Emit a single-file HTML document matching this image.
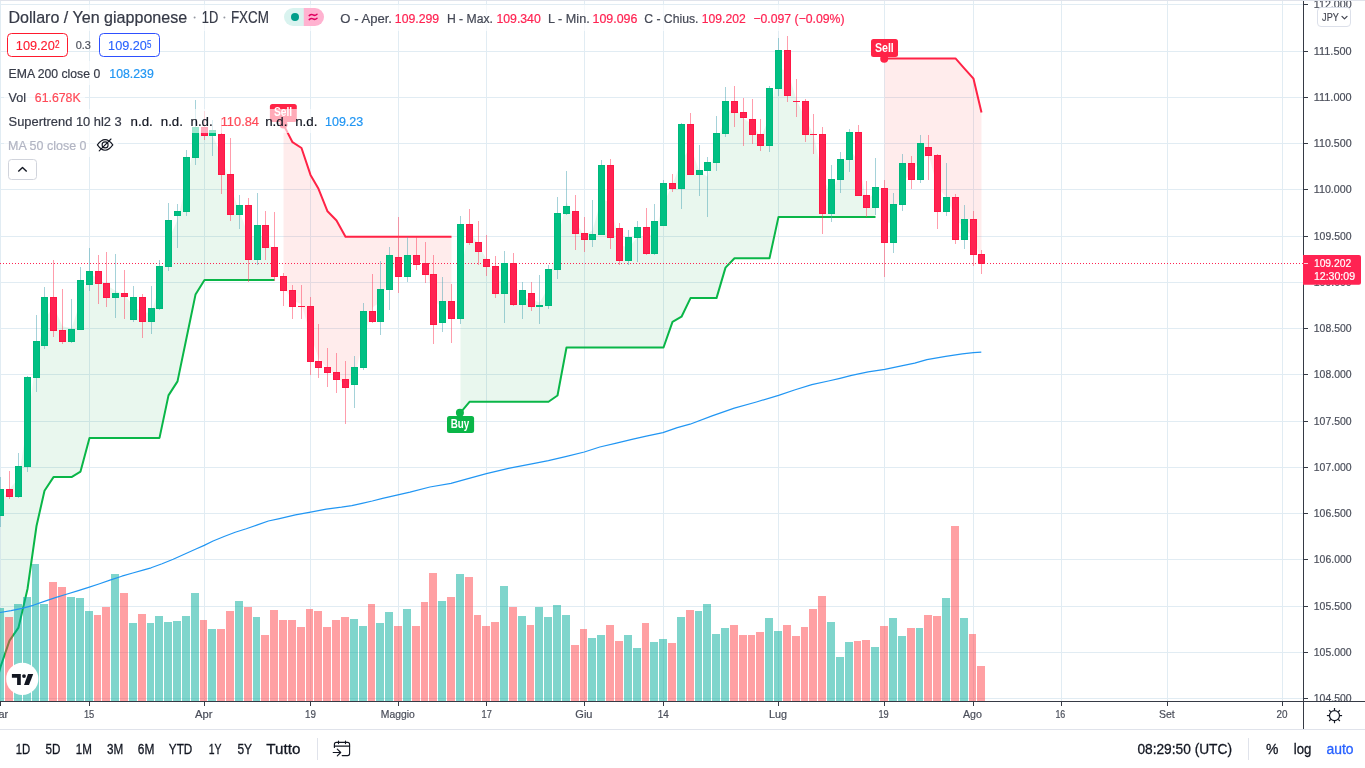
<!DOCTYPE html>
<html><head><meta charset="utf-8"><title>USDJPY</title>
<style>
html,body{margin:0;padding:0;background:#fff;}
body{width:1365px;height:768px;overflow:hidden;position:relative;font-family:"Liberation Sans",sans-serif;}
</style></head><body>
<svg width="1365" height="768" viewBox="0 0 1365 768" style="position:absolute;left:0;top:0;will-change:transform" font-family="Liberation Sans, sans-serif">
<rect x="0" y="0" width="1365" height="768" fill="#fff"/>
<rect x="0" y="0" width="1365" height="1" fill="#e0e3eb"/>
<g fill="#e1ecf3" shape-rendering="crispEdges"><rect x="0" y="1" width="1" height="700"/><rect x="89" y="1" width="1" height="700"/><rect x="204" y="1" width="1" height="700"/><rect x="310" y="1" width="1" height="700"/><rect x="398" y="1" width="1" height="700"/><rect x="486" y="1" width="1" height="700"/><rect x="584" y="1" width="1" height="700"/><rect x="663" y="1" width="1" height="700"/><rect x="778" y="1" width="1" height="700"/><rect x="884" y="1" width="1" height="700"/><rect x="973" y="1" width="1" height="700"/><rect x="1061" y="1" width="1" height="700"/><rect x="1167" y="1" width="1" height="700"/><rect x="1282" y="1" width="1" height="700"/><rect x="0" y="4" width="1303" height="1"/><rect x="0" y="51" width="1303" height="1"/><rect x="0" y="97" width="1303" height="1"/><rect x="0" y="143" width="1303" height="1"/><rect x="0" y="189" width="1303" height="1"/><rect x="0" y="236" width="1303" height="1"/><rect x="0" y="282" width="1303" height="1"/><rect x="0" y="328" width="1303" height="1"/><rect x="0" y="374" width="1303" height="1"/><rect x="0" y="421" width="1303" height="1"/><rect x="0" y="467" width="1303" height="1"/><rect x="0" y="513" width="1303" height="1"/><rect x="0" y="559" width="1303" height="1"/><rect x="0" y="606" width="1303" height="1"/><rect x="0" y="652" width="1303" height="1"/><rect x="0" y="698" width="1303" height="1"/></g>
<defs><clipPath id="pane"><rect x="0" y="1" width="1303" height="700"/></clipPath></defs>
<g clip-path="url(#pane)">
<polygon points="0.5,667.0 9.5,640.6 18.5,627.6 27.5,589.0 36.5,526.0 44.5,490.8 53.5,477.1 62.5,477.1 71.5,477.1 80.5,471.6 89.5,437.9 98.5,437.9 106.5,437.9 115.5,437.9 124.5,437.9 133.5,437.9 142.5,437.9 151.5,437.9 159.5,437.9 168.5,395.4 177.5,381.4 186.5,338.0 195.5,294.6 204.5,279.9 212.5,279.9 221.5,279.9 230.5,279.9 239.5,279.9 248.5,279.9 257.5,279.9 265.5,279.9 274.5,279.9 274.5,254.2 265.5,236.0 257.5,235.8 248.5,236.2 239.5,211.0 230.5,187.0 221.5,155.2 212.5,135.5 204.5,128.5 195.5,137.5 186.5,183.8 177.5,219.8 168.5,240.2 159.5,286.2 151.5,312.5 142.5,312.8 133.5,306.2 124.5,294.8 115.5,290.8 106.5,285.0 98.5,278.5 89.5,273.8 80.5,301.8 71.5,328.2 62.5,326.2 53.5,306.2 44.5,319.8 36.5,356.5 27.5,423.0 18.5,478.5 9.5,489.0 0.5,502.2" fill="rgba(0,160,60,0.085)"/>
<polygon points="283.5,124.6 292.5,142.2 301.5,148.0 310.5,174.9 318.5,188.8 327.5,211.3 336.5,220.5 345.5,236.8 354.5,236.8 363.5,236.8 372.5,236.8 380.5,236.8 389.5,236.8 398.5,236.8 407.5,236.8 416.5,236.8 425.5,236.8 433.5,236.8 442.5,236.8 451.5,236.8 451.5,311.8 442.5,308.2 433.5,299.5 425.5,265.8 416.5,256.8 407.5,262.8 398.5,261.0 389.5,275.5 380.5,301.8 372.5,307.5 363.5,338.0 354.5,379.0 345.5,388.0 336.5,374.5 327.5,368.8 318.5,357.8 310.5,335.0 301.5,304.2 292.5,300.2 283.5,286.5" fill="rgba(255,40,40,0.09)"/>
<polygon points="460.5,412.7 469.5,401.8 478.5,401.8 486.5,401.8 495.5,401.8 504.5,401.8 513.5,401.8 522.5,401.8 531.5,401.8 539.5,401.8 548.5,401.8 557.5,395.5 566.5,347.5 575.5,347.5 584.5,347.5 592.5,347.5 601.5,347.5 610.5,347.5 619.5,347.5 628.5,347.5 637.5,347.5 646.5,347.5 654.5,347.5 663.5,347.5 672.5,321.8 681.5,316.7 690.5,298.1 699.5,298.1 707.5,298.1 716.5,298.1 725.5,267.6 734.5,258.3 743.5,258.3 752.5,258.3 760.5,258.3 769.5,258.3 778.5,216.9 787.5,216.9 796.5,216.9 805.5,216.9 813.5,216.9 822.5,216.9 831.5,216.9 840.5,216.9 849.5,216.9 858.5,216.9 866.5,216.9 875.5,216.9 875.5,192.0 866.5,200.2 858.5,162.2 849.5,148.2 840.5,171.0 831.5,195.0 822.5,177.2 813.5,134.2 805.5,119.2 796.5,99.8 787.5,71.0 778.5,68.2 769.5,118.0 760.5,137.5 752.5,124.2 743.5,118.5 734.5,106.8 725.5,114.8 716.5,145.8 707.5,176.8 699.5,171.5 690.5,146.8 681.5,161.2 672.5,184.5 663.5,203.8 654.5,233.5 646.5,236.0 637.5,237.0 628.5,248.2 619.5,244.2 610.5,202.8 601.5,198.8 592.5,230.2 584.5,235.5 575.5,222.5 566.5,201.5 557.5,239.8 548.5,287.2 539.5,302.8 531.5,298.2 522.5,299.0 513.5,281.8 504.5,282.8 495.5,278.5 486.5,259.2 478.5,245.0 469.5,230.2 460.5,270.8" fill="rgba(0,160,60,0.085)"/>
<polygon points="884.5,58.4 893.5,58.4 902.5,58.4 911.5,58.4 920.5,58.4 928.5,58.4 937.5,58.4 946.5,58.4 955.5,58.4 964.5,68.6 973.5,78.7 981.5,112.6 981.5,260.5 973.5,237.8 964.5,228.2 955.5,218.8 946.5,197.0 937.5,187.5 928.5,154.5 920.5,160.2 911.5,172.0 902.5,183.2 893.5,223.2 884.5,222.0" fill="rgba(255,40,40,0.09)"/>
<polyline points="-8.5,700.0 0.5,667.0 9.5,640.6 18.5,627.6 27.5,589.0 36.5,526.0 44.5,490.8 53.5,477.1 62.5,477.1 71.5,477.1 80.5,471.6 89.5,437.9 98.5,437.9 106.5,437.9 115.5,437.9 124.5,437.9 133.5,437.9 142.5,437.9 151.5,437.9 159.5,437.9 168.5,395.4 177.5,381.4 186.5,338.0 195.5,294.6 204.5,279.9 212.5,279.9 221.5,279.9 230.5,279.9 239.5,279.9 248.5,279.9 257.5,279.9 265.5,279.9 274.5,279.9" fill="none" stroke="#0ab648" stroke-width="2" stroke-linejoin="round"/>
<polyline points="283.5,124.6 292.5,142.2 301.5,148.0 310.5,174.9 318.5,188.8 327.5,211.3 336.5,220.5 345.5,236.8 354.5,236.8 363.5,236.8 372.5,236.8 380.5,236.8 389.5,236.8 398.5,236.8 407.5,236.8 416.5,236.8 425.5,236.8 433.5,236.8 442.5,236.8 451.5,236.8" fill="none" stroke="#ff2346" stroke-width="2" stroke-linejoin="round"/>
<polyline points="460.5,412.7 469.5,401.8 478.5,401.8 486.5,401.8 495.5,401.8 504.5,401.8 513.5,401.8 522.5,401.8 531.5,401.8 539.5,401.8 548.5,401.8 557.5,395.5 566.5,347.5 575.5,347.5 584.5,347.5 592.5,347.5 601.5,347.5 610.5,347.5 619.5,347.5 628.5,347.5 637.5,347.5 646.5,347.5 654.5,347.5 663.5,347.5 672.5,321.8 681.5,316.7 690.5,298.1 699.5,298.1 707.5,298.1 716.5,298.1 725.5,267.6 734.5,258.3 743.5,258.3 752.5,258.3 760.5,258.3 769.5,258.3 778.5,216.9 787.5,216.9 796.5,216.9 805.5,216.9 813.5,216.9 822.5,216.9 831.5,216.9 840.5,216.9 849.5,216.9 858.5,216.9 866.5,216.9 875.5,216.9" fill="none" stroke="#0ab648" stroke-width="2" stroke-linejoin="round"/>
<polyline points="884.5,58.4 893.5,58.4 902.5,58.4 911.5,58.4 920.5,58.4 928.5,58.4 937.5,58.4 946.5,58.4 955.5,58.4 964.5,68.6 973.5,78.7 981.5,112.6" fill="none" stroke="#ff2346" stroke-width="2" stroke-linejoin="round"/>
<g shape-rendering="crispEdges"><rect x="0" y="608" width="4" height="93" fill="rgba(0,171,153,0.5)"/><rect x="5" y="617" width="8" height="84" fill="rgba(255,65,71,0.5)"/><rect x="14" y="604" width="8" height="97" fill="rgba(0,171,153,0.5)"/><rect x="23" y="597" width="8" height="104" fill="rgba(0,171,153,0.5)"/><rect x="32" y="564" width="7" height="137" fill="rgba(0,171,153,0.5)"/><rect x="40" y="604" width="8" height="97" fill="rgba(0,171,153,0.5)"/><rect x="49" y="582" width="8" height="119" fill="rgba(255,65,71,0.5)"/><rect x="58" y="587" width="8" height="114" fill="rgba(255,65,71,0.5)"/><rect x="67" y="597" width="8" height="104" fill="rgba(0,171,153,0.5)"/><rect x="76" y="598" width="8" height="103" fill="rgba(0,171,153,0.5)"/><rect x="85" y="611" width="8" height="90" fill="rgba(0,171,153,0.5)"/><rect x="94" y="615" width="7" height="86" fill="rgba(255,65,71,0.5)"/><rect x="102" y="607" width="8" height="94" fill="rgba(255,65,71,0.5)"/><rect x="111" y="574" width="8" height="127" fill="rgba(0,171,153,0.5)"/><rect x="120" y="593" width="8" height="108" fill="rgba(255,65,71,0.5)"/><rect x="129" y="623" width="8" height="78" fill="rgba(0,171,153,0.5)"/><rect x="138" y="614" width="8" height="87" fill="rgba(255,65,71,0.5)"/><rect x="147" y="623" width="7" height="78" fill="rgba(0,171,153,0.5)"/><rect x="155" y="616" width="8" height="85" fill="rgba(0,171,153,0.5)"/><rect x="164" y="622" width="8" height="79" fill="rgba(0,171,153,0.5)"/><rect x="173" y="621" width="8" height="80" fill="rgba(0,171,153,0.5)"/><rect x="182" y="616" width="8" height="85" fill="rgba(0,171,153,0.5)"/><rect x="191" y="593" width="8" height="108" fill="rgba(0,171,153,0.5)"/><rect x="200" y="620" width="7" height="81" fill="rgba(255,65,71,0.5)"/><rect x="208" y="629" width="8" height="72" fill="rgba(0,171,153,0.5)"/><rect x="217" y="629" width="8" height="72" fill="rgba(255,65,71,0.5)"/><rect x="226" y="611" width="8" height="90" fill="rgba(255,65,71,0.5)"/><rect x="235" y="601" width="8" height="100" fill="rgba(0,171,153,0.5)"/><rect x="244" y="607" width="8" height="94" fill="rgba(255,65,71,0.5)"/><rect x="253" y="617" width="7" height="84" fill="rgba(0,171,153,0.5)"/><rect x="261" y="635" width="8" height="66" fill="rgba(255,65,71,0.5)"/><rect x="270" y="610" width="8" height="91" fill="rgba(255,65,71,0.5)"/><rect x="279" y="620" width="8" height="81" fill="rgba(255,65,71,0.5)"/><rect x="288" y="620" width="8" height="81" fill="rgba(255,65,71,0.5)"/><rect x="297" y="627" width="8" height="74" fill="rgba(255,65,71,0.5)"/><rect x="306" y="609" width="7" height="92" fill="rgba(255,65,71,0.5)"/><rect x="314" y="611" width="8" height="90" fill="rgba(255,65,71,0.5)"/><rect x="323" y="627" width="8" height="74" fill="rgba(255,65,71,0.5)"/><rect x="332" y="620" width="8" height="81" fill="rgba(255,65,71,0.5)"/><rect x="341" y="617" width="8" height="84" fill="rgba(255,65,71,0.5)"/><rect x="350" y="619" width="8" height="82" fill="rgba(0,171,153,0.5)"/><rect x="359" y="626" width="8" height="75" fill="rgba(0,171,153,0.5)"/><rect x="368" y="604" width="7" height="97" fill="rgba(255,65,71,0.5)"/><rect x="376" y="623" width="8" height="78" fill="rgba(0,171,153,0.5)"/><rect x="385" y="612" width="8" height="89" fill="rgba(0,171,153,0.5)"/><rect x="394" y="626" width="8" height="75" fill="rgba(255,65,71,0.5)"/><rect x="403" y="609" width="8" height="92" fill="rgba(0,171,153,0.5)"/><rect x="412" y="626" width="8" height="75" fill="rgba(255,65,71,0.5)"/><rect x="421" y="602" width="7" height="99" fill="rgba(255,65,71,0.5)"/><rect x="429" y="573" width="8" height="128" fill="rgba(255,65,71,0.5)"/><rect x="438" y="601" width="8" height="100" fill="rgba(0,171,153,0.5)"/><rect x="447" y="597" width="8" height="104" fill="rgba(255,65,71,0.5)"/><rect x="456" y="574" width="8" height="127" fill="rgba(0,171,153,0.5)"/><rect x="465" y="577" width="8" height="124" fill="rgba(255,65,71,0.5)"/><rect x="474" y="615" width="7" height="86" fill="rgba(255,65,71,0.5)"/><rect x="482" y="626" width="8" height="75" fill="rgba(255,65,71,0.5)"/><rect x="491" y="622" width="8" height="79" fill="rgba(255,65,71,0.5)"/><rect x="500" y="586" width="8" height="115" fill="rgba(0,171,153,0.5)"/><rect x="509" y="607" width="8" height="94" fill="rgba(255,65,71,0.5)"/><rect x="518" y="616" width="8" height="85" fill="rgba(0,171,153,0.5)"/><rect x="527" y="625" width="7" height="76" fill="rgba(255,65,71,0.5)"/><rect x="535" y="607" width="8" height="94" fill="rgba(0,171,153,0.5)"/><rect x="544" y="617" width="8" height="84" fill="rgba(0,171,153,0.5)"/><rect x="553" y="605" width="8" height="96" fill="rgba(0,171,153,0.5)"/><rect x="562" y="615" width="8" height="86" fill="rgba(0,171,153,0.5)"/><rect x="571" y="645" width="8" height="56" fill="rgba(255,65,71,0.5)"/><rect x="580" y="629" width="7" height="72" fill="rgba(255,65,71,0.5)"/><rect x="588" y="638" width="8" height="63" fill="rgba(0,171,153,0.5)"/><rect x="597" y="635" width="8" height="66" fill="rgba(0,171,153,0.5)"/><rect x="606" y="625" width="8" height="76" fill="rgba(255,65,71,0.5)"/><rect x="615" y="641" width="8" height="60" fill="rgba(255,65,71,0.5)"/><rect x="624" y="635" width="8" height="66" fill="rgba(0,171,153,0.5)"/><rect x="633" y="648" width="8" height="53" fill="rgba(0,171,153,0.5)"/><rect x="642" y="623" width="7" height="78" fill="rgba(255,65,71,0.5)"/><rect x="650" y="642" width="8" height="59" fill="rgba(0,171,153,0.5)"/><rect x="659" y="639" width="8" height="62" fill="rgba(0,171,153,0.5)"/><rect x="668" y="643" width="8" height="58" fill="rgba(255,65,71,0.5)"/><rect x="677" y="617" width="8" height="84" fill="rgba(0,171,153,0.5)"/><rect x="686" y="610" width="8" height="91" fill="rgba(255,65,71,0.5)"/><rect x="695" y="611" width="7" height="90" fill="rgba(0,171,153,0.5)"/><rect x="703" y="604" width="8" height="97" fill="rgba(0,171,153,0.5)"/><rect x="712" y="634" width="8" height="67" fill="rgba(0,171,153,0.5)"/><rect x="721" y="628" width="8" height="73" fill="rgba(0,171,153,0.5)"/><rect x="730" y="625" width="8" height="76" fill="rgba(255,65,71,0.5)"/><rect x="739" y="635" width="8" height="66" fill="rgba(255,65,71,0.5)"/><rect x="748" y="635" width="7" height="66" fill="rgba(255,65,71,0.5)"/><rect x="756" y="632" width="8" height="69" fill="rgba(255,65,71,0.5)"/><rect x="765" y="618" width="8" height="83" fill="rgba(0,171,153,0.5)"/><rect x="774" y="631" width="8" height="70" fill="rgba(0,171,153,0.5)"/><rect x="783" y="625" width="8" height="76" fill="rgba(255,65,71,0.5)"/><rect x="792" y="636" width="8" height="65" fill="rgba(255,65,71,0.5)"/><rect x="801" y="627" width="7" height="74" fill="rgba(255,65,71,0.5)"/><rect x="809" y="609" width="8" height="92" fill="rgba(255,65,71,0.5)"/><rect x="818" y="596" width="8" height="105" fill="rgba(255,65,71,0.5)"/><rect x="827" y="622" width="8" height="79" fill="rgba(0,171,153,0.5)"/><rect x="836" y="657" width="8" height="44" fill="rgba(0,171,153,0.5)"/><rect x="845" y="642" width="8" height="59" fill="rgba(0,171,153,0.5)"/><rect x="854" y="641" width="7" height="60" fill="rgba(255,65,71,0.5)"/><rect x="862" y="640" width="8" height="61" fill="rgba(255,65,71,0.5)"/><rect x="871" y="647" width="8" height="54" fill="rgba(0,171,153,0.5)"/><rect x="880" y="626" width="8" height="75" fill="rgba(255,65,71,0.5)"/><rect x="889" y="618" width="8" height="83" fill="rgba(0,171,153,0.5)"/><rect x="898" y="636" width="8" height="65" fill="rgba(0,171,153,0.5)"/><rect x="907" y="628" width="8" height="73" fill="rgba(255,65,71,0.5)"/><rect x="916" y="628" width="7" height="73" fill="rgba(0,171,153,0.5)"/><rect x="924" y="615" width="8" height="86" fill="rgba(255,65,71,0.5)"/><rect x="933" y="616" width="8" height="85" fill="rgba(255,65,71,0.5)"/><rect x="942" y="598" width="8" height="103" fill="rgba(0,171,153,0.5)"/><rect x="951" y="526" width="8" height="175" fill="rgba(255,65,71,0.5)"/><rect x="960" y="618" width="8" height="83" fill="rgba(0,171,153,0.5)"/><rect x="969" y="634" width="7" height="67" fill="rgba(255,65,71,0.5)"/><rect x="977" y="666" width="8" height="35" fill="rgba(255,65,71,0.5)"/></g>
<line x1="0" y1="263.5" x2="1303" y2="263.5" stroke="#ff2352" stroke-width="1" stroke-dasharray="1 2" shape-rendering="crispEdges"/>
<polyline points="-2.0,612.8 0.0,612.5 11.1,610.6 22.1,608.4 33.2,605.3 44.3,601.4 55.4,597.6 66.4,594.2 77.5,590.9 88.6,587.4 99.6,583.7 110.7,579.9 121.8,576.2 132.8,573.0 143.9,569.9 151.1,567.8 162.1,563.7 173.2,559.2 184.3,554.2 195.4,549.3 204.2,545.4 213.1,541.0 224.1,536.5 235.2,532.3 246.3,528.8 257.4,524.9 268.4,521.0 279.5,518.6 295.4,514.9 310.6,512.1 326.2,509.2 341.5,507.2 351.8,505.6 362.0,503.4 372.3,501.0 382.6,498.3 397.9,494.9 410.0,492.2 429.9,487.0 451.0,483.4 465.4,479.3 486.4,473.7 509.6,468.2 531.8,463.8 548.4,460.6 566.6,456.4 584.3,452.0 599.8,447.0 616.4,443.1 633.0,439.2 646.3,436.1 662.9,432.6 677.3,427.6 690.0,424.2 712.1,415.9 734.3,408.1 756.4,402.0 778.6,395.4 795.2,389.8 811.8,384.6 828.4,381.0 840.0,378.3 851.6,375.4 868.2,371.8 884.8,369.3 901.4,365.9 914.7,363.2 926.9,359.6 945.7,356.3 962.3,353.8 973.4,352.7 981.3,352.1" fill="none" stroke="#2196f3" stroke-width="1.2" stroke-linejoin="round"/>
<g shape-rendering="crispEdges"><rect x="0" y="477" width="1" height="50" fill="rgba(76,166,180,0.5)"/><rect x="0" y="489" width="4" height="27" fill="#00b87c"/><rect x="0" y="490" width="3" height="25" fill="#00c083"/><rect x="9" y="471" width="1" height="28" fill="rgba(255,60,90,0.5)"/><rect x="6" y="489" width="7" height="8" fill="#ff1744"/><rect x="7" y="490" width="5" height="6" fill="#ff2352"/><rect x="18" y="453" width="1" height="45" fill="rgba(76,166,180,0.5)"/><rect x="15" y="466" width="7" height="31" fill="#00b87c"/><rect x="16" y="467" width="5" height="29" fill="#00c083"/><rect x="27" y="376" width="1" height="96" fill="rgba(76,166,180,0.5)"/><rect x="24" y="377" width="7" height="90" fill="#00b87c"/><rect x="25" y="378" width="5" height="88" fill="#00c083"/><rect x="36" y="315" width="1" height="77" fill="rgba(76,166,180,0.5)"/><rect x="33" y="341" width="7" height="37" fill="#00b87c"/><rect x="34" y="342" width="5" height="35" fill="#00c083"/><rect x="44" y="287" width="1" height="62" fill="rgba(76,166,180,0.5)"/><rect x="41" y="297" width="7" height="49" fill="#00b87c"/><rect x="42" y="298" width="5" height="47" fill="#00c083"/><rect x="53" y="260" width="1" height="77" fill="rgba(255,60,90,0.5)"/><rect x="50" y="297" width="7" height="34" fill="#ff1744"/><rect x="51" y="298" width="5" height="32" fill="#ff2352"/><rect x="62" y="289" width="1" height="55" fill="rgba(255,60,90,0.5)"/><rect x="59" y="330" width="7" height="12" fill="#ff1744"/><rect x="60" y="331" width="5" height="10" fill="#ff2352"/><rect x="71" y="299" width="1" height="44" fill="rgba(76,166,180,0.5)"/><rect x="68" y="329" width="7" height="13" fill="#00b87c"/><rect x="69" y="330" width="5" height="11" fill="#00c083"/><rect x="80" y="267" width="1" height="63" fill="rgba(76,166,180,0.5)"/><rect x="77" y="280" width="7" height="50" fill="#00b87c"/><rect x="78" y="281" width="5" height="48" fill="#00c083"/><rect x="89" y="248" width="1" height="43" fill="rgba(76,166,180,0.5)"/><rect x="86" y="271" width="7" height="14" fill="#00b87c"/><rect x="87" y="272" width="5" height="12" fill="#00c083"/><rect x="98" y="255" width="1" height="49" fill="rgba(255,60,90,0.5)"/><rect x="95" y="271" width="7" height="13" fill="#ff1744"/><rect x="96" y="272" width="5" height="11" fill="#ff2352"/><rect x="106" y="252" width="1" height="55" fill="rgba(255,60,90,0.5)"/><rect x="103" y="283" width="7" height="15" fill="#ff1744"/><rect x="104" y="284" width="5" height="13" fill="#ff2352"/><rect x="115" y="254" width="1" height="64" fill="rgba(76,166,180,0.5)"/><rect x="112" y="293" width="7" height="5" fill="#00b87c"/><rect x="113" y="294" width="5" height="3" fill="#00c083"/><rect x="124" y="270" width="1" height="49" fill="rgba(255,60,90,0.5)"/><rect x="121" y="293" width="7" height="4" fill="#ff1744"/><rect x="122" y="294" width="5" height="2" fill="#ff2352"/><rect x="133" y="286" width="1" height="36" fill="rgba(76,166,180,0.5)"/><rect x="130" y="297" width="7" height="23" fill="#00b87c"/><rect x="131" y="298" width="5" height="21" fill="#00c083"/><rect x="142" y="294" width="1" height="44" fill="rgba(255,60,90,0.5)"/><rect x="139" y="297" width="7" height="25" fill="#ff1744"/><rect x="140" y="298" width="5" height="23" fill="#ff2352"/><rect x="151" y="286" width="1" height="48" fill="rgba(76,166,180,0.5)"/><rect x="148" y="308" width="7" height="14" fill="#00b87c"/><rect x="149" y="309" width="5" height="12" fill="#00c083"/><rect x="159" y="260" width="1" height="50" fill="rgba(76,166,180,0.5)"/><rect x="156" y="266" width="7" height="43" fill="#00b87c"/><rect x="157" y="267" width="5" height="41" fill="#00c083"/><rect x="168" y="203" width="1" height="68" fill="rgba(76,166,180,0.5)"/><rect x="165" y="220" width="7" height="47" fill="#00b87c"/><rect x="166" y="221" width="5" height="45" fill="#00c083"/><rect x="177" y="204" width="1" height="44" fill="rgba(76,166,180,0.5)"/><rect x="174" y="211" width="7" height="5" fill="#00b87c"/><rect x="175" y="212" width="5" height="3" fill="#00c083"/><rect x="186" y="150" width="1" height="66" fill="rgba(76,166,180,0.5)"/><rect x="183" y="157" width="7" height="55" fill="#00b87c"/><rect x="184" y="158" width="5" height="53" fill="#00c083"/><rect x="195" y="100" width="1" height="65" fill="rgba(76,166,180,0.5)"/><rect x="192" y="127" width="7" height="31" fill="#00b87c"/><rect x="193" y="128" width="5" height="29" fill="#00c083"/><rect x="204" y="111" width="1" height="29" fill="rgba(255,60,90,0.5)"/><rect x="201" y="127" width="7" height="9" fill="#ff1744"/><rect x="202" y="128" width="5" height="7" fill="#ff2352"/><rect x="212" y="120" width="1" height="36" fill="rgba(76,166,180,0.5)"/><rect x="209" y="130" width="7" height="6" fill="#00b87c"/><rect x="210" y="131" width="5" height="4" fill="#00c083"/><rect x="221" y="118" width="1" height="76" fill="rgba(255,60,90,0.5)"/><rect x="218" y="134" width="7" height="41" fill="#ff1744"/><rect x="219" y="135" width="5" height="39" fill="#ff2352"/><rect x="230" y="138" width="1" height="83" fill="rgba(255,60,90,0.5)"/><rect x="227" y="174" width="7" height="41" fill="#ff1744"/><rect x="228" y="175" width="5" height="39" fill="#ff2352"/><rect x="239" y="195" width="1" height="34" fill="rgba(76,166,180,0.5)"/><rect x="236" y="205" width="7" height="10" fill="#00b87c"/><rect x="237" y="206" width="5" height="8" fill="#00c083"/><rect x="248" y="198" width="1" height="84" fill="rgba(255,60,90,0.5)"/><rect x="245" y="205" width="7" height="55" fill="#ff1744"/><rect x="246" y="206" width="5" height="53" fill="#ff2352"/><rect x="257" y="193" width="1" height="72" fill="rgba(76,166,180,0.5)"/><rect x="254" y="225" width="7" height="35" fill="#00b87c"/><rect x="255" y="226" width="5" height="33" fill="#00c083"/><rect x="265" y="211" width="1" height="49" fill="rgba(255,60,90,0.5)"/><rect x="262" y="225" width="7" height="23" fill="#ff1744"/><rect x="263" y="226" width="5" height="21" fill="#ff2352"/><rect x="274" y="212" width="1" height="69" fill="rgba(255,60,90,0.5)"/><rect x="271" y="247" width="7" height="30" fill="#ff1744"/><rect x="272" y="248" width="5" height="28" fill="#ff2352"/><rect x="283" y="273" width="1" height="33" fill="rgba(255,60,90,0.5)"/><rect x="280" y="276" width="7" height="15" fill="#ff1744"/><rect x="281" y="277" width="5" height="13" fill="#ff2352"/><rect x="292" y="285" width="1" height="34" fill="rgba(255,60,90,0.5)"/><rect x="289" y="290" width="7" height="17" fill="#ff1744"/><rect x="290" y="291" width="5" height="15" fill="#ff2352"/><rect x="301" y="285" width="1" height="34" fill="rgba(255,60,90,0.5)"/><rect x="298" y="306" width="7" height="1" fill="#ff1744"/><rect x="310" y="297" width="1" height="78" fill="rgba(255,60,90,0.5)"/><rect x="307" y="306" width="7" height="56" fill="#ff1744"/><rect x="308" y="307" width="5" height="54" fill="#ff2352"/><rect x="318" y="324" width="1" height="54" fill="rgba(255,60,90,0.5)"/><rect x="315" y="361" width="7" height="7" fill="#ff1744"/><rect x="316" y="362" width="5" height="5" fill="#ff2352"/><rect x="327" y="348" width="1" height="39" fill="rgba(255,60,90,0.5)"/><rect x="324" y="367" width="7" height="6" fill="#ff1744"/><rect x="325" y="368" width="5" height="4" fill="#ff2352"/><rect x="336" y="353" width="1" height="40" fill="rgba(255,60,90,0.5)"/><rect x="333" y="372" width="7" height="8" fill="#ff1744"/><rect x="334" y="373" width="5" height="6" fill="#ff2352"/><rect x="345" y="361" width="1" height="63" fill="rgba(255,60,90,0.5)"/><rect x="342" y="379" width="7" height="9" fill="#ff1744"/><rect x="343" y="380" width="5" height="7" fill="#ff2352"/><rect x="354" y="356" width="1" height="52" fill="rgba(76,166,180,0.5)"/><rect x="351" y="367" width="7" height="18" fill="#00b87c"/><rect x="352" y="368" width="5" height="16" fill="#00c083"/><rect x="363" y="303" width="1" height="67" fill="rgba(76,166,180,0.5)"/><rect x="360" y="311" width="7" height="57" fill="#00b87c"/><rect x="361" y="312" width="5" height="55" fill="#00c083"/><rect x="372" y="274" width="1" height="49" fill="rgba(255,60,90,0.5)"/><rect x="369" y="311" width="7" height="11" fill="#ff1744"/><rect x="370" y="312" width="5" height="9" fill="#ff2352"/><rect x="380" y="261" width="1" height="74" fill="rgba(76,166,180,0.5)"/><rect x="377" y="289" width="7" height="33" fill="#00b87c"/><rect x="378" y="290" width="5" height="31" fill="#00c083"/><rect x="389" y="247" width="1" height="63" fill="rgba(76,166,180,0.5)"/><rect x="386" y="255" width="7" height="35" fill="#00b87c"/><rect x="387" y="256" width="5" height="33" fill="#00c083"/><rect x="398" y="217" width="1" height="76" fill="rgba(255,60,90,0.5)"/><rect x="395" y="257" width="7" height="20" fill="#ff1744"/><rect x="396" y="258" width="5" height="18" fill="#ff2352"/><rect x="407" y="237" width="1" height="45" fill="rgba(76,166,180,0.5)"/><rect x="404" y="255" width="7" height="22" fill="#00b87c"/><rect x="405" y="256" width="5" height="20" fill="#00c083"/><rect x="416" y="237" width="1" height="33" fill="rgba(255,60,90,0.5)"/><rect x="413" y="255" width="7" height="10" fill="#ff1744"/><rect x="414" y="256" width="5" height="8" fill="#ff2352"/><rect x="425" y="242" width="1" height="41" fill="rgba(255,60,90,0.5)"/><rect x="422" y="263" width="7" height="12" fill="#ff1744"/><rect x="423" y="264" width="5" height="10" fill="#ff2352"/><rect x="433" y="255" width="1" height="89" fill="rgba(255,60,90,0.5)"/><rect x="430" y="274" width="7" height="51" fill="#ff1744"/><rect x="431" y="275" width="5" height="49" fill="#ff2352"/><rect x="442" y="277" width="1" height="55" fill="rgba(76,166,180,0.5)"/><rect x="439" y="301" width="7" height="22" fill="#00b87c"/><rect x="440" y="302" width="5" height="20" fill="#00c083"/><rect x="451" y="284" width="1" height="59" fill="rgba(255,60,90,0.5)"/><rect x="448" y="301" width="7" height="18" fill="#ff1744"/><rect x="449" y="302" width="5" height="16" fill="#ff2352"/><rect x="460" y="216" width="1" height="108" fill="rgba(76,166,180,0.5)"/><rect x="457" y="224" width="7" height="95" fill="#00b87c"/><rect x="458" y="225" width="5" height="93" fill="#00c083"/><rect x="469" y="209" width="1" height="36" fill="rgba(255,60,90,0.5)"/><rect x="466" y="224" width="7" height="19" fill="#ff1744"/><rect x="467" y="225" width="5" height="17" fill="#ff2352"/><rect x="478" y="221" width="1" height="44" fill="rgba(255,60,90,0.5)"/><rect x="475" y="242" width="7" height="10" fill="#ff1744"/><rect x="476" y="243" width="5" height="8" fill="#ff2352"/><rect x="486" y="235" width="1" height="41" fill="rgba(255,60,90,0.5)"/><rect x="483" y="259" width="7" height="8" fill="#ff1744"/><rect x="484" y="260" width="5" height="6" fill="#ff2352"/><rect x="495" y="256" width="1" height="42" fill="rgba(255,60,90,0.5)"/><rect x="492" y="266" width="7" height="28" fill="#ff1744"/><rect x="493" y="267" width="5" height="26" fill="#ff2352"/><rect x="504" y="251" width="1" height="72" fill="rgba(76,166,180,0.5)"/><rect x="501" y="263" width="7" height="31" fill="#00b87c"/><rect x="502" y="264" width="5" height="29" fill="#00c083"/><rect x="513" y="253" width="1" height="53" fill="rgba(255,60,90,0.5)"/><rect x="510" y="263" width="7" height="42" fill="#ff1744"/><rect x="511" y="264" width="5" height="40" fill="#ff2352"/><rect x="522" y="282" width="1" height="37" fill="rgba(76,166,180,0.5)"/><rect x="519" y="290" width="7" height="15" fill="#00b87c"/><rect x="520" y="291" width="5" height="13" fill="#00c083"/><rect x="531" y="282" width="1" height="29" fill="rgba(255,60,90,0.5)"/><rect x="528" y="293" width="7" height="14" fill="#ff1744"/><rect x="529" y="294" width="5" height="12" fill="#ff2352"/><rect x="539" y="275" width="1" height="49" fill="rgba(76,166,180,0.5)"/><rect x="536" y="305" width="7" height="2" fill="#00b87c"/><rect x="548" y="265" width="1" height="44" fill="rgba(76,166,180,0.5)"/><rect x="545" y="269" width="7" height="37" fill="#00b87c"/><rect x="546" y="270" width="5" height="35" fill="#00c083"/><rect x="557" y="197" width="1" height="82" fill="rgba(76,166,180,0.5)"/><rect x="554" y="213" width="7" height="57" fill="#00b87c"/><rect x="555" y="214" width="5" height="55" fill="#00c083"/><rect x="566" y="171" width="1" height="44" fill="rgba(76,166,180,0.5)"/><rect x="563" y="206" width="7" height="8" fill="#00b87c"/><rect x="564" y="207" width="5" height="6" fill="#00c083"/><rect x="575" y="195" width="1" height="55" fill="rgba(255,60,90,0.5)"/><rect x="572" y="211" width="7" height="23" fill="#ff1744"/><rect x="573" y="212" width="5" height="21" fill="#ff2352"/><rect x="584" y="217" width="1" height="35" fill="rgba(255,60,90,0.5)"/><rect x="581" y="233" width="7" height="7" fill="#ff1744"/><rect x="582" y="234" width="5" height="5" fill="#ff2352"/><rect x="592" y="200" width="1" height="47" fill="rgba(76,166,180,0.5)"/><rect x="589" y="234" width="7" height="6" fill="#00b87c"/><rect x="590" y="235" width="5" height="4" fill="#00c083"/><rect x="601" y="160" width="1" height="75" fill="rgba(76,166,180,0.5)"/><rect x="598" y="165" width="7" height="70" fill="#00b87c"/><rect x="599" y="166" width="5" height="68" fill="#00c083"/><rect x="610" y="159" width="1" height="90" fill="rgba(255,60,90,0.5)"/><rect x="607" y="165" width="7" height="73" fill="#ff1744"/><rect x="608" y="166" width="5" height="71" fill="#ff2352"/><rect x="619" y="223" width="1" height="42" fill="rgba(255,60,90,0.5)"/><rect x="616" y="228" width="7" height="33" fill="#ff1744"/><rect x="617" y="229" width="5" height="31" fill="#ff2352"/><rect x="628" y="230" width="1" height="35" fill="rgba(76,166,180,0.5)"/><rect x="625" y="237" width="7" height="24" fill="#00b87c"/><rect x="626" y="238" width="5" height="22" fill="#00c083"/><rect x="637" y="221" width="1" height="41" fill="rgba(76,166,180,0.5)"/><rect x="634" y="227" width="7" height="11" fill="#00b87c"/><rect x="635" y="228" width="5" height="9" fill="#00c083"/><rect x="646" y="208" width="1" height="47" fill="rgba(255,60,90,0.5)"/><rect x="643" y="227" width="7" height="27" fill="#ff1744"/><rect x="644" y="228" width="5" height="25" fill="#ff2352"/><rect x="654" y="204" width="1" height="51" fill="rgba(76,166,180,0.5)"/><rect x="651" y="221" width="7" height="33" fill="#00b87c"/><rect x="652" y="222" width="5" height="31" fill="#00c083"/><rect x="663" y="180" width="1" height="46" fill="rgba(76,166,180,0.5)"/><rect x="660" y="183" width="7" height="43" fill="#00b87c"/><rect x="661" y="184" width="5" height="41" fill="#00c083"/><rect x="672" y="174" width="1" height="18" fill="rgba(255,60,90,0.5)"/><rect x="669" y="183" width="7" height="6" fill="#ff1744"/><rect x="670" y="184" width="5" height="4" fill="#ff2352"/><rect x="681" y="123" width="1" height="86" fill="rgba(76,166,180,0.5)"/><rect x="678" y="124" width="7" height="65" fill="#00b87c"/><rect x="679" y="125" width="5" height="63" fill="#00c083"/><rect x="690" y="113" width="1" height="62" fill="rgba(255,60,90,0.5)"/><rect x="687" y="124" width="7" height="51" fill="#ff1744"/><rect x="688" y="125" width="5" height="49" fill="#ff2352"/><rect x="699" y="145" width="1" height="51" fill="rgba(76,166,180,0.5)"/><rect x="696" y="170" width="7" height="5" fill="#00b87c"/><rect x="697" y="171" width="5" height="3" fill="#00c083"/><rect x="707" y="157" width="1" height="60" fill="rgba(76,166,180,0.5)"/><rect x="704" y="162" width="7" height="9" fill="#00b87c"/><rect x="705" y="163" width="5" height="7" fill="#00c083"/><rect x="716" y="116" width="1" height="55" fill="rgba(76,166,180,0.5)"/><rect x="713" y="133" width="7" height="30" fill="#00b87c"/><rect x="714" y="134" width="5" height="28" fill="#00c083"/><rect x="725" y="87" width="1" height="50" fill="rgba(76,166,180,0.5)"/><rect x="722" y="101" width="7" height="33" fill="#00b87c"/><rect x="723" y="102" width="5" height="31" fill="#00c083"/><rect x="734" y="86" width="1" height="41" fill="rgba(255,60,90,0.5)"/><rect x="731" y="101" width="7" height="12" fill="#ff1744"/><rect x="732" y="102" width="5" height="10" fill="#ff2352"/><rect x="743" y="98" width="1" height="48" fill="rgba(255,60,90,0.5)"/><rect x="740" y="112" width="7" height="6" fill="#ff1744"/><rect x="741" y="113" width="5" height="4" fill="#ff2352"/><rect x="752" y="99" width="1" height="45" fill="rgba(255,60,90,0.5)"/><rect x="749" y="119" width="7" height="16" fill="#ff1744"/><rect x="750" y="120" width="5" height="14" fill="#ff2352"/><rect x="760" y="119" width="1" height="32" fill="rgba(255,60,90,0.5)"/><rect x="757" y="134" width="7" height="12" fill="#ff1744"/><rect x="758" y="135" width="5" height="10" fill="#ff2352"/><rect x="769" y="86" width="1" height="66" fill="rgba(76,166,180,0.5)"/><rect x="766" y="88" width="7" height="58" fill="#00b87c"/><rect x="767" y="89" width="5" height="56" fill="#00c083"/><rect x="778" y="38" width="1" height="58" fill="rgba(76,166,180,0.5)"/><rect x="775" y="50" width="7" height="39" fill="#00b87c"/><rect x="776" y="51" width="5" height="37" fill="#00c083"/><rect x="787" y="36" width="1" height="66" fill="rgba(255,60,90,0.5)"/><rect x="784" y="50" width="7" height="46" fill="#ff1744"/><rect x="785" y="51" width="5" height="44" fill="#ff2352"/><rect x="796" y="79" width="1" height="38" fill="rgba(255,60,90,0.5)"/><rect x="793" y="101" width="7" height="1" fill="#ff1744"/><rect x="805" y="99" width="1" height="43" fill="rgba(255,60,90,0.5)"/><rect x="802" y="101" width="7" height="34" fill="#ff1744"/><rect x="803" y="102" width="5" height="32" fill="#ff2352"/><rect x="813" y="114" width="1" height="40" fill="rgba(255,60,90,0.5)"/><rect x="810" y="134" width="7" height="1" fill="#ff1744"/><rect x="822" y="127" width="1" height="107" fill="rgba(255,60,90,0.5)"/><rect x="819" y="134" width="7" height="80" fill="#ff1744"/><rect x="820" y="135" width="5" height="78" fill="#ff2352"/><rect x="831" y="165" width="1" height="57" fill="rgba(76,166,180,0.5)"/><rect x="828" y="179" width="7" height="35" fill="#00b87c"/><rect x="829" y="180" width="5" height="33" fill="#00c083"/><rect x="840" y="152" width="1" height="41" fill="rgba(76,166,180,0.5)"/><rect x="837" y="159" width="7" height="21" fill="#00b87c"/><rect x="838" y="160" width="5" height="19" fill="#00c083"/><rect x="849" y="129" width="1" height="43" fill="rgba(76,166,180,0.5)"/><rect x="846" y="132" width="7" height="28" fill="#00b87c"/><rect x="847" y="133" width="5" height="26" fill="#00c083"/><rect x="858" y="125" width="1" height="71" fill="rgba(255,60,90,0.5)"/><rect x="855" y="132" width="7" height="64" fill="#ff1744"/><rect x="856" y="133" width="5" height="62" fill="#ff2352"/><rect x="866" y="181" width="1" height="36" fill="rgba(255,60,90,0.5)"/><rect x="863" y="195" width="7" height="13" fill="#ff1744"/><rect x="864" y="196" width="5" height="11" fill="#ff2352"/><rect x="875" y="158" width="1" height="57" fill="rgba(76,166,180,0.5)"/><rect x="872" y="187" width="7" height="21" fill="#00b87c"/><rect x="873" y="188" width="5" height="19" fill="#00c083"/><rect x="884" y="180" width="1" height="97" fill="rgba(255,60,90,0.5)"/><rect x="881" y="188" width="7" height="55" fill="#ff1744"/><rect x="882" y="189" width="5" height="53" fill="#ff2352"/><rect x="893" y="193" width="1" height="60" fill="rgba(76,166,180,0.5)"/><rect x="890" y="204" width="7" height="39" fill="#00b87c"/><rect x="891" y="205" width="5" height="37" fill="#00c083"/><rect x="902" y="154" width="1" height="57" fill="rgba(76,166,180,0.5)"/><rect x="899" y="163" width="7" height="42" fill="#00b87c"/><rect x="900" y="164" width="5" height="40" fill="#00c083"/><rect x="911" y="156" width="1" height="33" fill="rgba(255,60,90,0.5)"/><rect x="908" y="163" width="7" height="17" fill="#ff1744"/><rect x="909" y="164" width="5" height="15" fill="#ff2352"/><rect x="920" y="135" width="1" height="48" fill="rgba(76,166,180,0.5)"/><rect x="917" y="143" width="7" height="37" fill="#00b87c"/><rect x="918" y="144" width="5" height="35" fill="#00c083"/><rect x="928" y="135" width="1" height="45" fill="rgba(255,60,90,0.5)"/><rect x="925" y="147" width="7" height="9" fill="#ff1744"/><rect x="926" y="148" width="5" height="7" fill="#ff2352"/><rect x="937" y="154" width="1" height="75" fill="rgba(255,60,90,0.5)"/><rect x="934" y="155" width="7" height="57" fill="#ff1744"/><rect x="935" y="156" width="5" height="55" fill="#ff2352"/><rect x="946" y="163" width="1" height="53" fill="rgba(76,166,180,0.5)"/><rect x="943" y="197" width="7" height="15" fill="#00b87c"/><rect x="944" y="198" width="5" height="13" fill="#00c083"/><rect x="955" y="194" width="1" height="50" fill="rgba(255,60,90,0.5)"/><rect x="952" y="197" width="7" height="43" fill="#ff1744"/><rect x="953" y="198" width="5" height="41" fill="#ff2352"/><rect x="964" y="205" width="1" height="44" fill="rgba(76,166,180,0.5)"/><rect x="961" y="219" width="7" height="21" fill="#00b87c"/><rect x="962" y="220" width="5" height="19" fill="#00c083"/><rect x="973" y="211" width="1" height="55" fill="rgba(255,60,90,0.5)"/><rect x="970" y="219" width="7" height="36" fill="#ff1744"/><rect x="971" y="220" width="5" height="34" fill="#ff2352"/><rect x="981" y="250" width="1" height="24" fill="rgba(255,60,90,0.5)"/><rect x="978" y="254" width="7" height="10" fill="#ff1744"/><rect x="979" y="255" width="5" height="8" fill="#ff2352"/></g>
<circle cx="283.5" cy="124.6" r="4" fill="#ff2346"/><rect x="269.9" y="104.0" width="26.9" height="18.0" rx="2.5" fill="#ff2346"/><text x="274.0" y="115.8" font-size="12.4" font-weight="bold" fill="#fff" textLength="18.2" lengthAdjust="spacingAndGlyphs">Sell</text>
<circle cx="884.2" cy="58.7" r="4" fill="#ff2346"/><rect x="871.0" y="38.9" width="27.0" height="18.0" rx="2.5" fill="#ff2346"/><text x="874.9" y="52.0" font-size="12.4" font-weight="bold" fill="#fff" textLength="18.9" lengthAdjust="spacingAndGlyphs">Sell</text>
<circle cx="459.9" cy="412.7" r="4" fill="#0ab648"/><rect x="447.0" y="415.9" width="27.1" height="17.1" rx="2.5" fill="#0ab648"/><text x="450.7" y="427.9" font-size="12.4" font-weight="bold" fill="#fff" textLength="18.6" lengthAdjust="spacingAndGlyphs">Buy</text>
</g>
<rect x="1303" y="1" width="1" height="728" fill="#363a45" shape-rendering="crispEdges"/>
<rect x="0" y="701" width="1365" height="1" fill="#363a45" shape-rendering="crispEdges"/>
<rect x="0" y="729" width="1365" height="1" fill="#e0e3eb" shape-rendering="crispEdges"/>
<g shape-rendering="crispEdges" fill="#363a45"><rect x="1304" y="4" width="4" height="1"/><rect x="1304" y="51" width="4" height="1"/><rect x="1304" y="97" width="4" height="1"/><rect x="1304" y="143" width="4" height="1"/><rect x="1304" y="189" width="4" height="1"/><rect x="1304" y="236" width="4" height="1"/><rect x="1304" y="282" width="4" height="1"/><rect x="1304" y="328" width="4" height="1"/><rect x="1304" y="374" width="4" height="1"/><rect x="1304" y="421" width="4" height="1"/><rect x="1304" y="467" width="4" height="1"/><rect x="1304" y="513" width="4" height="1"/><rect x="1304" y="559" width="4" height="1"/><rect x="1304" y="606" width="4" height="1"/><rect x="1304" y="652" width="4" height="1"/><rect x="1304" y="698" width="4" height="1"/></g>
<g clip-path="url(#pclip)"><defs><clipPath id="pclip"><rect x="1304" y="1" width="61" height="700"/></clipPath></defs><g font-size="10.9" fill="#4a4e5a" stroke="#4a4e5a" stroke-width="0.2"><text x="1313.8" y="7.9" textLength="37.8" lengthAdjust="spacingAndGlyphs">112.000</text><text x="1313.8" y="54.9" textLength="37.8" lengthAdjust="spacingAndGlyphs">111.500</text><text x="1313.8" y="100.9" textLength="37.8" lengthAdjust="spacingAndGlyphs">111.000</text><text x="1313.8" y="146.9" textLength="37.8" lengthAdjust="spacingAndGlyphs">110.500</text><text x="1313.8" y="192.9" textLength="37.8" lengthAdjust="spacingAndGlyphs">110.000</text><text x="1313.8" y="239.9" textLength="37.8" lengthAdjust="spacingAndGlyphs">109.500</text><text x="1313.8" y="285.9" textLength="37.8" lengthAdjust="spacingAndGlyphs">109.000</text><text x="1313.8" y="331.9" textLength="37.8" lengthAdjust="spacingAndGlyphs">108.500</text><text x="1313.8" y="377.9" textLength="37.8" lengthAdjust="spacingAndGlyphs">108.000</text><text x="1313.8" y="424.9" textLength="37.8" lengthAdjust="spacingAndGlyphs">107.500</text><text x="1313.8" y="470.9" textLength="37.8" lengthAdjust="spacingAndGlyphs">107.000</text><text x="1313.8" y="516.9" textLength="37.8" lengthAdjust="spacingAndGlyphs">106.500</text><text x="1313.8" y="562.9" textLength="37.8" lengthAdjust="spacingAndGlyphs">106.000</text><text x="1313.8" y="609.9" textLength="37.8" lengthAdjust="spacingAndGlyphs">105.500</text><text x="1313.8" y="655.9" textLength="37.8" lengthAdjust="spacingAndGlyphs">105.000</text><text x="1313.8" y="701.9" textLength="37.8" lengthAdjust="spacingAndGlyphs">104.500</text></g></g>
<g shape-rendering="crispEdges" fill="#363a45"><rect x="0" y="702" width="1" height="4"/><rect x="89" y="702" width="1" height="4"/><rect x="204" y="702" width="1" height="4"/><rect x="310" y="702" width="1" height="4"/><rect x="398" y="702" width="1" height="4"/><rect x="486" y="702" width="1" height="4"/><rect x="584" y="702" width="1" height="4"/><rect x="663" y="702" width="1" height="4"/><rect x="778" y="702" width="1" height="4"/><rect x="884" y="702" width="1" height="4"/><rect x="973" y="702" width="1" height="4"/><rect x="1061" y="702" width="1" height="4"/><rect x="1167" y="702" width="1" height="4"/><rect x="1282" y="702" width="1" height="4"/></g>
<g font-size="10.7" fill="#4a4e5a" stroke="#4a4e5a" stroke-width="0.2"><text x="-10.4" y="717.9" textLength="18.6" lengthAdjust="spacingAndGlyphs">Mar</text><text x="83.9" y="717.9" textLength="10.4" lengthAdjust="spacingAndGlyphs">15</text><text x="195.1" y="717.9" textLength="17.4" lengthAdjust="spacingAndGlyphs">Apr</text><text x="305.0" y="717.9" textLength="10.9" lengthAdjust="spacingAndGlyphs">19</text><text x="380.8" y="717.9" textLength="34.0" lengthAdjust="spacingAndGlyphs">Maggio</text><text x="481.5" y="717.9" textLength="10.3" lengthAdjust="spacingAndGlyphs">17</text><text x="575.3" y="717.9" textLength="17.2" lengthAdjust="spacingAndGlyphs">Giu</text><text x="657.7" y="717.9" textLength="11.0" lengthAdjust="spacingAndGlyphs">14</text><text x="768.9" y="717.9" textLength="18.0" lengthAdjust="spacingAndGlyphs">Lug</text><text x="878.4" y="717.9" textLength="10.3" lengthAdjust="spacingAndGlyphs">19</text><text x="963.0" y="717.9" textLength="19.0" lengthAdjust="spacingAndGlyphs">Ago</text><text x="1055.4" y="717.9" textLength="9.9" lengthAdjust="spacingAndGlyphs">16</text><text x="1159.0" y="717.9" textLength="15.8" lengthAdjust="spacingAndGlyphs">Set</text><text x="1276.6" y="717.9" textLength="11.0" lengthAdjust="spacingAndGlyphs">20</text></g>
<g fill="rgba(255,255,255,0.62)">
<rect x="4" y="5" width="846" height="26"/>
<rect x="4" y="61" width="154" height="24"/>
<rect x="4" y="85" width="81" height="24"/>
<rect x="4" y="109" width="364" height="24"/>
<rect x="4" y="133" width="114" height="24"/>
</g>
<text x="8.5" y="23.0" font-size="16.6" fill="#363a47" textLength="178.7" lengthAdjust="spacingAndGlyphs" stroke="#363a47" stroke-width="0.22">Dollaro / Yen giapponese</text>
<circle cx="194.6" cy="17.5" r="1" fill="#9598a1"/>
<text x="201.8" y="23.0" font-size="16.6" fill="#363a47" textLength="16.5" lengthAdjust="spacingAndGlyphs" stroke="#363a47" stroke-width="0.22">1D</text>
<circle cx="224.4" cy="17.5" r="1" fill="#9598a1"/>
<text x="230.9" y="23.0" font-size="16.6" fill="#363a47" textLength="38.1" lengthAdjust="spacingAndGlyphs" stroke="#363a47" stroke-width="0.22">FXCM</text>
<defs><clipPath id="pill"><rect x="284" y="8" width="40" height="18" rx="9"/></clipPath></defs>
<g clip-path="url(#pill)"><rect x="284" y="8" width="20" height="18" fill="#d9f3ef"/><rect x="303.8" y="8" width="20.2" height="18" fill="#ffb2d0"/></g>
<circle cx="295" cy="17" r="4" fill="#009e8a"/>
<path d="M309.2 15.6 q2 -1.9 3.9 -0.7 t3.9 -0.7 M309.2 19.6 q2 -1.9 3.9 -0.7 t3.9 -0.7" fill="none" stroke="#e00060" stroke-width="1.5" stroke-linecap="round"/>
<text x="340.3" y="22.7" font-size="12.8" fill="#454956" textLength="51.7" lengthAdjust="spacingAndGlyphs" stroke="#454956" stroke-width="0.20">O - Aper.</text>
<text x="394.8" y="22.7" font-size="12.8" fill="#ff2352" textLength="44.4" lengthAdjust="spacingAndGlyphs" stroke="#ff2352" stroke-width="0.20">109.299</text>
<text x="446.9" y="22.7" font-size="12.8" fill="#454956" textLength="46.1" lengthAdjust="spacingAndGlyphs" stroke="#454956" stroke-width="0.20">H - Max.</text>
<text x="496.4" y="22.7" font-size="12.8" fill="#ff2352" textLength="44.4" lengthAdjust="spacingAndGlyphs" stroke="#ff2352" stroke-width="0.20">109.340</text>
<text x="548.0" y="22.7" font-size="12.8" fill="#454956" textLength="41.7" lengthAdjust="spacingAndGlyphs" stroke="#454956" stroke-width="0.20">L - Min.</text>
<text x="592.5" y="22.7" font-size="12.8" fill="#ff2352" textLength="44.9" lengthAdjust="spacingAndGlyphs" stroke="#ff2352" stroke-width="0.20">109.096</text>
<text x="644.2" y="22.7" font-size="12.8" fill="#454956" textLength="54.3" lengthAdjust="spacingAndGlyphs" stroke="#454956" stroke-width="0.20">C - Chius.</text>
<text x="701.8" y="22.7" font-size="12.8" fill="#ff2352" textLength="43.9" lengthAdjust="spacingAndGlyphs" stroke="#ff2352" stroke-width="0.20">109.202</text>
<text x="753.4" y="22.7" font-size="12.8" fill="#ff2352" textLength="91.2" lengthAdjust="spacingAndGlyphs" stroke="#ff2352" stroke-width="0.20">−0.097 (−0.09%)</text>
<rect x="7.5" y="33.5" width="60" height="23" rx="4" fill="#fff" stroke="#ff1a2e" stroke-width="1"/>
<text x="15.8" y="50.2" font-size="13.6" fill="#ff1a2e" textLength="39.0" lengthAdjust="spacingAndGlyphs" stroke="#ff1a2e" stroke-width="0.12">109.20</text>
<text x="54.9" y="47.9" font-size="10.4" fill="#ff1a2e" textLength="4.6" lengthAdjust="spacingAndGlyphs" stroke="#ff1a2e" stroke-width="0.20">2</text>
<text x="75.7" y="48.5" font-size="10.4" fill="#50535e" textLength="15.2" lengthAdjust="spacingAndGlyphs" stroke="#50535e" stroke-width="0.20">0.3</text>
<rect x="99.5" y="33.5" width="60" height="23" rx="4" fill="#fff" stroke="#2e50ff" stroke-width="1"/>
<text x="108.1" y="50.2" font-size="13.6" fill="#2962ff" textLength="38.8" lengthAdjust="spacingAndGlyphs" stroke="#2962ff" stroke-width="0.12">109.20</text>
<text x="147.0" y="47.9" font-size="10.4" fill="#2962ff" textLength="4.4" lengthAdjust="spacingAndGlyphs" stroke="#2962ff" stroke-width="0.20">5</text>
<text x="8.6" y="77.8" font-size="12.8" fill="#363a47" textLength="91.6" lengthAdjust="spacingAndGlyphs" stroke="#363a47" stroke-width="0.20">EMA 200 close 0</text>
<text x="109.3" y="77.8" font-size="12.8" fill="#2196f3" textLength="44.5" lengthAdjust="spacingAndGlyphs" stroke="#2196f3" stroke-width="0.20">108.239</text>
<text x="8.6" y="101.8" font-size="12.8" fill="#363a47" textLength="17.4" lengthAdjust="spacingAndGlyphs" stroke="#363a47" stroke-width="0.20">Vol</text>
<text x="34.8" y="101.8" font-size="12.8" fill="#ff4a58" textLength="45.9" lengthAdjust="spacingAndGlyphs" stroke="#ff4a58" stroke-width="0.20">61.678K</text>
<text x="8.6" y="125.5" font-size="12.8" fill="#363a47" textLength="113.2" lengthAdjust="spacingAndGlyphs" stroke="#363a47" stroke-width="0.20">Supertrend 10 hl2 3</text>
<text x="130.6" y="125.5" font-size="12.8" fill="#131722" textLength="22.2" lengthAdjust="spacingAndGlyphs" stroke="#131722" stroke-width="0.20">n.d.</text>
<text x="160.8" y="125.5" font-size="12.8" fill="#131722" textLength="22.1" lengthAdjust="spacingAndGlyphs" stroke="#131722" stroke-width="0.20">n.d.</text>
<text x="190.5" y="125.5" font-size="12.8" fill="#131722" textLength="22.2" lengthAdjust="spacingAndGlyphs" stroke="#131722" stroke-width="0.20">n.d.</text>
<text x="220.7" y="125.5" font-size="12.8" fill="#ff4a58" textLength="38.3" lengthAdjust="spacingAndGlyphs" stroke="#ff4a58" stroke-width="0.20">110.84</text>
<text x="265.2" y="125.5" font-size="12.8" fill="#131722" textLength="22.3" lengthAdjust="spacingAndGlyphs" stroke="#131722" stroke-width="0.20">n.d.</text>
<text x="295.2" y="125.5" font-size="12.8" fill="#131722" textLength="22.3" lengthAdjust="spacingAndGlyphs" stroke="#131722" stroke-width="0.20">n.d.</text>
<text x="325.0" y="125.5" font-size="12.8" fill="#2196f3" textLength="38.2" lengthAdjust="spacingAndGlyphs" stroke="#2196f3" stroke-width="0.20">109.23</text>
<text x="8.1" y="149.9" font-size="12.8" fill="#b2b5c3" textLength="78.4" lengthAdjust="spacingAndGlyphs" stroke="#b2b5c3" stroke-width="0.20">MA 50 close 0</text>
<g fill="none" stroke="#131722" stroke-width="1.1" stroke-linecap="round"><path d="M97.4 144.9 q7.6 -10.6 15.4 0 q-7.8 10.6 -15.4 0 z"/><circle cx="105.1" cy="144.9" r="3"/><path d="M99.2 150.8 L111 139"/></g>
<rect x="8.5" y="159.5" width="28" height="20" rx="3" fill="#fff" stroke="#d1d4dc" stroke-width="1"/>
<path d="M18.3 171.6 L22.5 167.4 L26.7 171.6" fill="none" stroke="#131722" stroke-width="1.4" stroke-linejoin="round"/>
<rect x="1317.5" y="7.5" width="33" height="19" rx="3.5" fill="#fff" stroke="#dce0ea" stroke-width="1"/>
<text x="1322.1" y="21.0" font-size="11.6" fill="#434651" textLength="16.7" lengthAdjust="spacingAndGlyphs" stroke="#434651" stroke-width="0.20">JPY</text>
<path d="M1342 16.4 L1344.5 18.9 L1347 16.4" fill="none" stroke="#434651" stroke-width="1.3" stroke-linecap="round" stroke-linejoin="round"/>
<path d="M1303 255 H1359 a2 2 0 0 1 2 2 V282.7 a2 2 0 0 1 -2 2 H1303 Z" fill="#ff2352"/>
<rect x="1304" y="263" width="4" height="1" fill="#ffd0da" shape-rendering="crispEdges"/>
<text x="1313.9" y="266.8" font-size="10.7" fill="#fff" textLength="37.3" lengthAdjust="spacingAndGlyphs" stroke="#fff" stroke-width="0.20">109.202</text>
<text x="1313.9" y="279.8" font-size="10.7" fill="#fff" textLength="41.2" lengthAdjust="spacingAndGlyphs" stroke="#fff" stroke-width="0.20">12:30:09</text>
<g stroke="#131722" stroke-width="1.2" fill="none" stroke-linecap="butt"><circle cx="1334.5" cy="715.6" r="5"/><path d="M1339.80 715.60 L1342.10 715.60"/><path d="M1338.25 719.35 L1339.87 720.97"/><path d="M1334.50 720.90 L1334.50 723.20"/><path d="M1330.75 719.35 L1329.13 720.97"/><path d="M1329.20 715.60 L1326.90 715.60"/><path d="M1330.75 711.85 L1329.13 710.23"/><path d="M1334.50 710.30 L1334.50 708.00"/><path d="M1338.25 711.85 L1339.87 710.23"/></g>
<circle cx="22.3" cy="678.9" r="16.1" fill="#fff"/>
<g fill="#131722"><path d="M11.9 674 H20.8 V685 H17.1 V677.8 H11.9 Z"/><circle cx="24" cy="676.1" r="1.9"/><path d="M28 674 H33.2 L29 685 H24 Z"/></g>
<text x="15.8" y="753.8" font-size="14.0" fill="#131722" textLength="14.5" lengthAdjust="spacingAndGlyphs" stroke="#131722" stroke-width="0.30">1D</text>
<text x="45.5" y="753.8" font-size="14.0" fill="#131722" textLength="14.9" lengthAdjust="spacingAndGlyphs" stroke="#131722" stroke-width="0.30">5D</text>
<text x="75.8" y="753.8" font-size="14.0" fill="#131722" textLength="16.1" lengthAdjust="spacingAndGlyphs" stroke="#131722" stroke-width="0.30">1M</text>
<text x="107.1" y="753.8" font-size="14.0" fill="#131722" textLength="16.2" lengthAdjust="spacingAndGlyphs" stroke="#131722" stroke-width="0.30">3M</text>
<text x="137.8" y="753.8" font-size="14.0" fill="#131722" textLength="16.5" lengthAdjust="spacingAndGlyphs" stroke="#131722" stroke-width="0.30">6M</text>
<text x="168.8" y="753.8" font-size="14.0" fill="#131722" textLength="23.5" lengthAdjust="spacingAndGlyphs" stroke="#131722" stroke-width="0.30">YTD</text>
<text x="208.8" y="753.8" font-size="14.0" fill="#131722" textLength="12.8" lengthAdjust="spacingAndGlyphs" stroke="#131722" stroke-width="0.30">1Y</text>
<text x="237.4" y="753.8" font-size="14.0" fill="#131722" textLength="14.6" lengthAdjust="spacingAndGlyphs" stroke="#131722" stroke-width="0.30">5Y</text>
<text x="266.3" y="753.8" font-size="14.0" fill="#131722" textLength="34.1" lengthAdjust="spacingAndGlyphs" stroke="#131722" stroke-width="0.30">Tutto</text>
<rect x="317" y="738" width="1" height="22" fill="#e0e3eb" shape-rendering="crispEdges"/>
<g fill="none" stroke="#131722" stroke-width="1.15" stroke-linecap="round" stroke-linejoin="round"><path d="M334.4 747.4 V744.4 a2 2 0 0 1 2 -2 H347.6 a2 2 0 0 1 2 2 V753.6 a2 2 0 0 1 -2 2 H342.2"/><path d="M334.4 746.1 H349.6"/><path d="M338.5 741 V743.6 M345.5 741 V743.6"/><path d="M333.2 752.5 H340.6 M337.3 749.2 L340.7 752.5 L337.3 755.8"/></g>
<text x="1137.4" y="753.8" font-size="14.0" fill="#131722" textLength="94.6" lengthAdjust="spacingAndGlyphs" stroke="#131722" stroke-width="0.30">08:29:50 (UTC)</text>
<rect x="1248" y="738" width="1" height="22" fill="#e0e3eb" shape-rendering="crispEdges"/>
<text x="1265.9" y="753.8" font-size="14.0" fill="#131722" textLength="12.4" lengthAdjust="spacingAndGlyphs" stroke="#131722" stroke-width="0.30">%</text>
<text x="1293.8" y="753.8" font-size="14.0" fill="#131722" textLength="17.6" lengthAdjust="spacingAndGlyphs" stroke="#131722" stroke-width="0.30">log</text>
<text x="1326.5" y="753.8" font-size="14.0" fill="#2962ff" textLength="27.1" lengthAdjust="spacingAndGlyphs" stroke="#2962ff" stroke-width="0.30">auto</text>
</svg>
</body></html>
